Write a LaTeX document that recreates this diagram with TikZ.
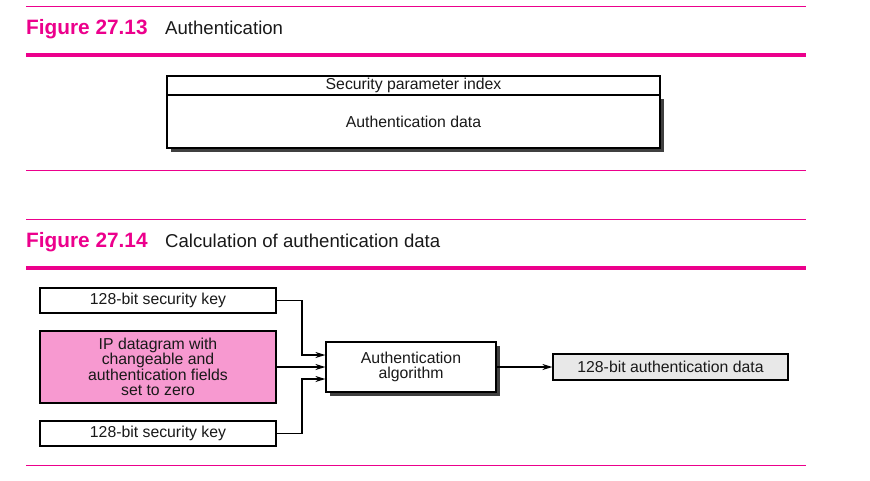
\documentclass[tikz,border=0pt]{standalone}
\usepackage{fontspec}
\setmainfont{Liberation Sans}
\usetikzlibrary{positioning,shadows,arrows.meta}
\definecolor{mymagenta}{RGB}{236,0,140}
\definecolor{mypink}{RGB}{247,153,208}
\definecolor{mygray}{RGB}{232,232,232}

\begin{document}
\begin{tikzpicture}[x=1pt,y=-1pt,
  font=\fontsize{15.8}{15.5}\selectfont,
  every node/.style={inner sep=0pt,align=center,text=black!90},
  box/.style={draw,line width=1.2pt,fill=white,rectangle},
  shadowbox/.style={box,drop shadow={shadow xshift=3.5pt,shadow yshift=-3.5pt,fill=black!75,opacity=1}},
  rule/.style={mymagenta,line width=0.9pt},
  thickrule/.style={mymagenta,line width=4pt},
  figlabel/.style={anchor=base west,text=mymagenta,font=\fontsize{20.8}{22}\selectfont\bfseries},
  figtitle/.style={anchor=base west,font=\fontsize{18.6}{20}\selectfont},
  arrow/.style={draw,line width=1.4pt,-{Stealth[length=10pt,width=6pt]}}
]
\useasboundingbox (0,0) rectangle (870,480);

% the first figure
\draw[rule] (26,6) -- (806,6);
\node[figlabel] (fig1) at (26,34) {Figure 27.13};
\node[figtitle] (title1) at (165,34) {Authentication};
\draw[thickrule] (26,55) -- (806,55);

\node[shadowbox,minimum width=493pt,minimum height=53pt] (authdata) at (413.5,121.5) {Authentication data};
\node[box,minimum width=493pt,minimum height=19pt] (spi) at (413.5,85.5) {Security parameter index};
\draw[rule] (26,170) -- (806,170);

% the second figure
\draw[rule] (26,219) -- (806,219);
\node[figlabel] (fig2) at (26,247) {Figure 27.14};
\node[figtitle] (title2) at (165,247) {Calculation of authentication data};
\draw[thickrule] (26,268) -- (806,268);

% the inputs
\node[box,minimum width=236pt,minimum height=25pt] (key1) at (158,300.5) {128-bit security key};
\node[box,fill=mypink,minimum width=236pt,minimum height=72pt] (ipdata) at (158,367) {IP datagram with\\changeable and\\authentication fields\\set to zero};
\node[box,minimum width=236pt,minimum height=25pt] (key2) at (158,433.5) {128-bit security key};

% the algorithm and the result
\node[shadowbox,minimum width=170pt,minimum height=50pt] (algo) at (411,367) {Authentication\\algorithm};
\node[box,fill=mygray,minimum width=235pt,minimum height=26pt] (result) at (670.5,367) {128-bit authentication data};

% the edges
\draw[arrow] (key1.east) -| (302,355) -- ([yshift=12pt]algo.west);
\draw[arrow] (ipdata.east) -- (algo.west);
\draw[arrow] (key2.east) -| (302,379) -- ([yshift=-12pt]algo.west);
\draw[arrow] (algo.east) -- (result.west);

\draw[rule] (26,465) -- (806,465);
\end{tikzpicture}
\end{document}
